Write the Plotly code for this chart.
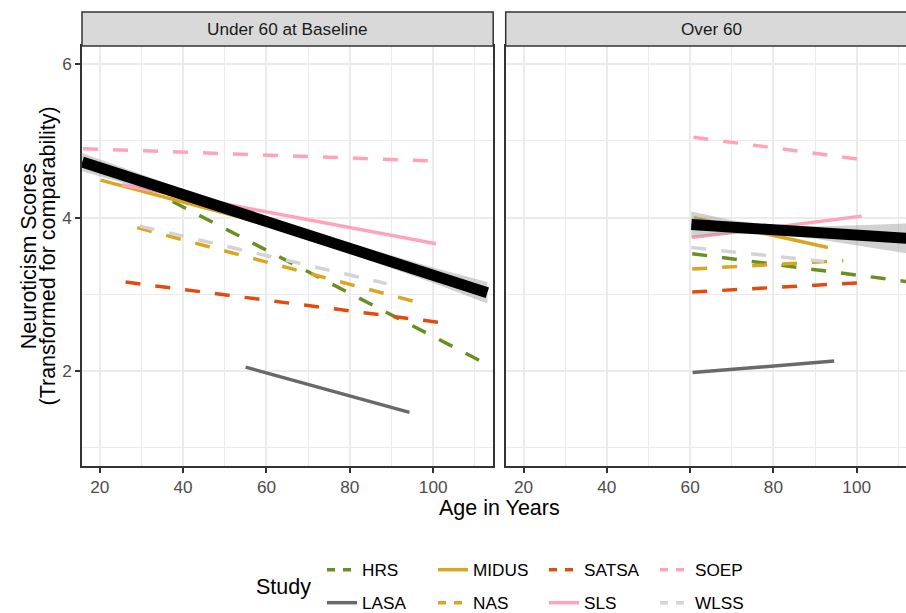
import plotly.graph_objects as go

# ---------------- data ----------------
studies = ["HRS", "LASA", "MIDUS", "NAS", "SATSA", "SLS", "SOEP", "WLSS"]
colors = ["#6B8E23", "#696969", "#DAA520", "#DAA520", "#E34A0F", "#FFA3B8", "#FFA3B8", "#D3D3D3"]
dashes = ["dashed", "solid", "solid", "dashed", "dashed", "solid", "dashed", "dashed"]

panel_titles = ["Under 60 at Baseline", "Over 60"]

# Panel 1: Under 60 at Baseline  (start/end of each study trajectory)
u60_start_age = [37.5, 55.0, 20.2, 29.0, 26.2, 25.3, 16.0, 29.6]
u60_start_val = [4.21, 2.05, 4.49, 3.87, 3.16, 4.43, 4.90, 3.89]
u60_end_age = [112.8, 94.3, 75.0, 98.0, 102.0, 100.7, 100.0, 88.8]
u60_end_val = [2.09, 1.46, 3.70, 2.87, 2.63, 3.66, 4.74, 3.14]

# Panel 2: Over 60
o60_start_age = [60.5, 60.6, 60.9, 60.5, 60.5, 60.4, 60.8, 60.3]
o60_start_val = [3.53, 1.98, 4.00, 3.33, 3.03, 3.74, 5.05, 3.61]
o60_end_age = [113.0, 94.6, 93.1, 96.8, 100.3, 101.2, 100.7, 92.2]
o60_end_val = [3.16, 2.13, 3.61, 3.44, 3.15, 4.02, 4.76, 3.43]

# Overall trajectory with confidence band
u60_fit_age = [15.8, 40, 60, 80, 100, 113]
u60_fit_val = [4.725, 4.301, 3.950, 3.600, 3.249, 3.021]
u60_fit_lo = [4.605, 4.231, 3.890, 3.530, 3.149, 2.881]
u60_fit_hi = [4.845, 4.371, 4.010, 3.670, 3.349, 3.161]

o60_fit_age = [60.3, 70, 80, 90, 100, 113]
o60_fit_val = [3.910, 3.876, 3.841, 3.806, 3.771, 3.726]
o60_fit_lo = [3.740, 3.786, 3.781, 3.726, 3.641, 3.526]
o60_fit_hi = [4.080, 3.966, 3.901, 3.886, 3.901, 3.926]

x_major = [20, 40, 60, 80, 100]
x_minor = [30, 50, 70, 90, 110]
y_major = [2, 4, 6]
y_minor = [1, 3, 5]

x_title = "Age in Years"
y_title_1 = "Neuroticism Scores"
y_title_2 = "(Transformed for comparability)"
legend_title = "Study"

# ---------------- styling ----------------
FONT = "Liberation Sans, Arial, Helvetica, sans-serif"
DASH = {"dashed": "15px,15px", "solid": "solid"}
KEY_DASH = {"dashed": "8px,8px", "solid": "solid"}
LINE_W = 3.5
GRID = "#EBEBEB"
DARK = "#333333"

fig = go.Figure()

panels = [
    ("x", "y", u60_start_age, u60_start_val, u60_end_age, u60_end_val),
    ("x2", "y2", o60_start_age, o60_start_val, o60_end_age, o60_end_val),
]
for p, (xa, ya, sa, sv, ea, ev) in enumerate(panels):
    for i, s in enumerate(studies):
        fig.add_trace(go.Scatter(
            x=[sa[i], ea[i]], y=[sv[i], ev[i]], mode="lines",
            line=dict(color=colors[i], width=LINE_W, dash=DASH[dashes[i]]),
            name=s, legendgroup=s, showlegend=False,
            xaxis=xa, yaxis=ya, hoverinfo="skip",
        ))

# legend keys (legend-only entries, ggplot-like short dashes)
for i, s in enumerate(studies):
    fig.add_trace(go.Scatter(
        x=[None], y=[None], mode="lines",
        line=dict(color=colors[i], width=LINE_W, dash=KEY_DASH[dashes[i]]),
        name=s, legendgroup=s, showlegend=True,
        legend="legend" if i % 2 == 0 else "legend2", hoverinfo="skip",
    ))

fits = [
    ("x", "y", u60_fit_age, u60_fit_val, u60_fit_lo, u60_fit_hi),
    ("x2", "y2", o60_fit_age, o60_fit_val, o60_fit_lo, o60_fit_hi),
]
for xa, ya, fa, fv, flo, fhi in fits:
    fig.add_trace(go.Scatter(
        x=list(fa) + list(fa[::-1]), y=list(fhi) + list(flo[::-1]),
        fill="toself", fillcolor="rgba(153,153,153,0.45)",
        line=dict(width=0), mode="lines", showlegend=False,
        xaxis=xa, yaxis=ya, hoverinfo="skip",
    ))
for xa, ya, fa, fv, flo, fhi in fits:
    fig.add_trace(go.Scatter(
        x=fa, y=fv, mode="lines", line=dict(color="black", width=11),
        showlegend=False, xaxis=xa, yaxis=ya, hoverinfo="skip",
    ))

W, H = 906, 613
ML, MR, MT, MB = 82, 0, 46, 147
PW, PH = W - ML - MR, H - MT - MB


def px(xp):
    return (xp - ML) / PW


def py(yp):
    return (H - MB - yp) / PH


left_dom = [0, px(493.2)]
right_dom = [px(505.7), 1]

tickfont = dict(family=FONT, size=17.2, color="#4D4D4D")
common_x = dict(
    tickmode="array", tickvals=x_major, ticks="outside", ticklen=5, tickwidth=1.5,
    tickcolor=DARK, tickfont=tickfont, showgrid=True, gridcolor=GRID, gridwidth=1.7,
    zeroline=False, showline=True, linecolor=DARK, linewidth=1.5, mirror=True,
    minor=dict(tickvals=x_minor, showgrid=True, gridcolor=GRID, gridwidth=1.0, ticks=""),
)
common_y = dict(
    range=[0.761, 6.239], tickmode="array", tickvals=y_major, showgrid=True,
    gridcolor=GRID, gridwidth=1.7, zeroline=False, showline=True, linecolor=DARK,
    linewidth=1.5,
    minor=dict(tickvals=y_minor, showgrid=True, gridcolor=GRID, gridwidth=1.0, ticks=""),
)

legend_common = dict(orientation="h", x=px(322), xanchor="left", yanchor="middle",
                     font=dict(family=FONT, size=17.2, color="black"),
                     bgcolor="rgba(0,0,0,0)", entrywidth=66, entrywidthmode="pixels",
                     traceorder="normal")

fig.update_layout(
    width=W, height=H,
    margin=dict(l=ML, r=MR, t=MT, b=MB, pad=0, autoexpand=False),
    paper_bgcolor="white", plot_bgcolor="white",
    font=dict(family=FONT, color="black"),
    xaxis=dict(domain=left_dom, range=[15.75, 114.4], anchor="y", **common_x),
    xaxis2=dict(domain=right_dom, range=[15.7, 111.85], anchor="y2", **common_x),
    yaxis=dict(anchor="x", ticks="outside", ticklen=5, tickwidth=1.5, tickcolor=DARK,
               tickfont=tickfont, mirror=True, **common_y),
    yaxis2=dict(anchor="x2", ticks="", showticklabels=False, mirror=False, **common_y),
    legend=dict(y=py(570), **legend_common),
    legend2=dict(y=py(603), **legend_common),
)

# facet strips
strip_y0, strip_y1 = py(46), py(12)
for dom, title, cx in [(left_dom, panel_titles[0], (82.3 + 493.2) / 2),
                       (right_dom, panel_titles[1], 711.5)]:
    fig.add_shape(type="rect", xref="paper", yref="paper",
                  x0=dom[0], x1=dom[1] + (0.02 if dom[1] == 1 else 0), y0=strip_y0, y1=strip_y1,
                  fillcolor="#D9D9D9", line=dict(color=DARK, width=1.5), layer="above")
    fig.add_annotation(text=title, xref="paper", yref="paper", x=px(cx), y=py(29),
                       showarrow=False, xanchor="center", yanchor="middle",
                       font=dict(family=FONT, size=17.2, color="#1A1A1A"))

# axis titles
fig.add_annotation(text=x_title, xref="paper", yref="paper", x=px(499.5), y=py(508),
                   showarrow=False, xanchor="center", yanchor="middle",
                   font=dict(family=FONT, size=21.5, color="black"))
fig.add_annotation(text=y_title_1, xref="paper", yref="paper", x=px(29.2), y=py(256),
                   showarrow=False, xanchor="center", yanchor="middle", textangle=-90,
                   font=dict(family=FONT, size=21.5, color="black"))
fig.add_annotation(text=y_title_2, xref="paper", yref="paper", x=px(47.5), y=py(256),
                   showarrow=False, xanchor="center", yanchor="middle", textangle=-90,
                   font=dict(family=FONT, size=21.5, color="black"))
fig.add_annotation(text=legend_title, xref="paper", yref="paper", x=px(283), y=py(587),
                   showarrow=False, xanchor="center", yanchor="middle",
                   font=dict(family=FONT, size=21.5, color="black"))

fig.write_html(
    "out.html",
    config={"displayModeBar": False},
    post_script="document.body.style.margin='0px';document.body.style.overflow='hidden';",
)
